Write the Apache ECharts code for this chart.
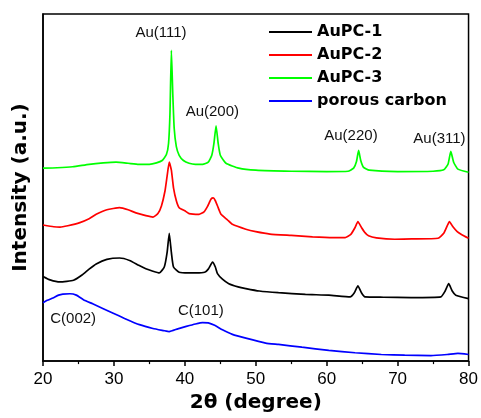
<!DOCTYPE html>
<html>
<head>
<meta charset="utf-8">
<script src="https://cdn.jsdelivr.net/npm/echarts@6/dist/echarts.min.js"></script>
<style>
  html, body { margin: 0; padding: 0; background: #fff; }
  #chart { width: 481px; height: 418px; }
</style>
</head>
<body>
<div id="chart"></div>
<script>
// XRD patterns, 2θ in degrees vs. intensity (arbitrary units, stacked with offsets)
const seriesNames = ['AuPC-1', 'AuPC-2', 'AuPC-3', 'porous carbon'];
const seriesColors = ['#000000', '#ff0000', '#00ff00', '#0000ff'];

const aupc1 = [
  [20, 24.4], [21, 23.4], [22.4, 22.8], [24.3, 23.3], [25.5, 24.8], [26.5, 26.5],
  [27.5, 28.0], [29.0, 29.3], [30.8, 29.7], [32.2, 29.0], [33.5, 27.6], [34.5, 26.6],
  [35.5, 25.9], [36.4, 25.4], [37.1, 27.1], [37.5, 31.3], [37.8, 36.8], [38.1, 31.3],
  [38.4, 27.1], [39.2, 25.6], [40.5, 25.4], [41.6, 25.4], [42.8, 25.6], [43.3, 26.5],
  [43.9, 28.5], [44.3, 27.1], [44.6, 25.2], [45.3, 23.6], [46.2, 22.3], [47.5, 21.4],
  [48.6, 20.9], [50.5, 20.2], [53.2, 19.7], [57, 19.2], [60.3, 19.0], [63.3, 18.5],
  [63.9, 19.7], [64.4, 21.7], [64.9, 19.7], [65.4, 18.5], [68, 18.4], [71.9, 18.3],
  [76.1, 18.5], [76.7, 20.2], [77.2, 22.3], [77.7, 20.2], [78.2, 19.0], [80, 18.0]
];

const aupc2 = [
  [20, 39.2], [21.5, 38.7], [22.4, 38.6], [23.5, 39.0], [25.2, 39.9], [26.5, 41.0],
  [27.5, 42.3], [29.0, 43.6], [30.8, 44.2], [32.0, 43.6], [33.1, 42.7], [34.5, 41.9],
  [35.5, 41.5], [36.2, 42.5], [36.7, 44.7], [37.2, 49.0], [37.5, 53.3], [37.8, 57.3],
  [38.1, 55.0], [38.4, 49.9], [38.8, 46.2], [39.2, 44.2], [40.0, 43.3], [40.6, 42.5],
  [42.0, 42.3], [42.7, 43.0], [43.2, 44.6], [43.7, 46.7], [44.0, 47.0], [44.3, 46.2],
  [44.7, 44.2], [45.1, 42.3], [46.0, 40.7], [46.7, 39.4], [48.6, 38.0], [50, 37.3],
  [52, 36.6], [55, 36.2], [58, 35.8], [61, 35.6], [62.6, 35.6], [63.4, 36.5],
  [64.0, 38.5], [64.4, 40.2], [64.9, 38.5], [65.4, 37.0], [65.9, 36.1], [67, 35.5],
  [69.6, 35.1], [72, 35.2], [75.7, 35.4], [76.5, 36.8], [77.0, 39.0], [77.3, 40.2],
  [77.8, 38.7], [78.4, 37.3], [79.0, 36.5], [80, 35.4]
];

const aupc3 = [
  [20, 55.6], [22, 55.7], [24.2, 56.0], [26.5, 56.7], [28.5, 57.1], [30.3, 57.3],
  [32.0, 57.0], [33.5, 56.7], [35.0, 56.7], [36.0, 57.1], [36.8, 57.8], [37.4, 59.5],
  [37.7, 62.7], [37.9, 71.2], [38.1, 89.5], [38.3, 76.9], [38.5, 67.0], [38.8, 61.8],
  [39.2, 59.3], [39.8, 57.8], [40.6, 57.0], [41.5, 56.7], [42.5, 56.7], [43.3, 57.3],
  [43.8, 59.3], [44.1, 62.7], [44.4, 67.8], [44.7, 62.7], [45.0, 59.3], [45.8, 57.0],
  [47.6, 55.6], [50, 55.0], [55, 54.7], [60, 54.6], [63.0, 54.7], [63.8, 55.6],
  [64.2, 57.5], [64.5, 60.7], [64.8, 57.8], [65.2, 55.8], [66.0, 55.0], [70, 54.6],
  [75, 54.7], [76.5, 55.1], [77.1, 56.7], [77.5, 60.4], [77.9, 57.3], [78.5, 55.3],
  [80, 54.4]
];

const porousCarbon = [
  [20, 16.8], [20.6, 17.5], [21.4, 18.2], [22.2, 19.0], [22.8, 19.3], [23.8, 19.4],
  [24.7, 19.0], [25.7, 17.7], [27.0, 16.5], [28.5, 15.1], [29.9, 13.8], [31.5, 12.3],
  [33.6, 10.5], [35.5, 9.4], [37.0, 8.8], [37.8, 8.5], [39.0, 9.3], [40.2, 10.0],
  [41.5, 10.7], [42.5, 11.1], [43.3, 11.0], [44.2, 10.3], [45.3, 9.0], [46.7, 7.7],
  [48.6, 6.6], [51.4, 5.2], [53.2, 4.8], [56.5, 4.0], [60.3, 3.1], [64, 2.4],
  [67.7, 1.9], [71, 1.7], [74.7, 1.6], [77, 1.9], [78.5, 2.2], [80, 1.9]
];

// Reflection labels: [text, 2θ, intensity]
const peakLabels = [
  ['Au(111)', 36.64, 94.6],
  ['Au(200)', 43.88, 71.7],
  ['Au(220)', 63.42, 64.8],
  ['Au(311)', 75.9, 64.1],
  ['C(002)', 24.25, 12.2],
  ['C(101)', 42.25, 14.4]
];

const xTicks = [20, 30, 40, 50, 60, 70, 80];

const chart = echarts.init(document.getElementById('chart'), null, { renderer: 'canvas' });

const curves = [aupc1, aupc2, aupc3, porousCarbon];
const lineSeries = curves.map((d, i) => ({
  name: seriesNames[i],
  type: 'line',
  data: d,
  showSymbol: false,
  symbol: 'none',
  smooth: 0.15,
  lineStyle: { color: seriesColors[i], width: 1.7 },
  itemStyle: { color: seriesColors[i] },
  z: 3
}));

const labelSeries = {
  name: 'labels',
  type: 'scatter',
  data: peakLabels.map(p => ({ name: p[0], value: [p[1], p[2]] })),
  symbolSize: 0.1,
  itemStyle: { color: 'rgba(0,0,0,0)' },
  silent: true,
  label: {
    show: true,
    position: 'inside',
    formatter: p => p.name,
    color: '#111',
    opacity: 1,
    textBorderWidth: 0,
    fontFamily: 'Liberation Sans, Arial, sans-serif',
    fontSize: 15
  },
  z: 5
};

chart.setOption({
  animation: false,
  backgroundColor: '#ffffff',
  grid: {
    left: 43, right: 10, top: 14, bottom: 53,
    show: true, borderColor: '#000', borderWidth: 1.5, backgroundColor: 'transparent'
  },
  legend: {
    data: seriesNames,
    orient: 'vertical',
    left: 269,
    top: 22,
    padding: 0,
    itemGap: 3,
    itemWidth: 43,
    itemHeight: 2,
    icon: 'rect',
    textStyle: {
      fontFamily: 'DejaVu Sans, sans-serif',
      fontWeight: 'bold',
      fontSize: 16,
      lineHeight: 20,
      color: '#000'
    }
  },
  xAxis: {
    type: 'value',
    min: 20,
    max: 80,
    interval: 10,
    name: '2θ (degree)',
    nameLocation: 'middle',
    nameGap: 29,
    nameTextStyle: {
      fontFamily: 'DejaVu Sans, sans-serif',
      fontWeight: 'bold',
      fontSize: 20,
      color: '#000'
    },
    axisLine: { show: true, onZero: false, lineStyle: { color: '#000', width: 1.5 } },
    axisTick: { show: true, inside: false, length: 5, lineStyle: { color: '#000', width: 1.5 } },
    minorTick: { show: true, splitNumber: 2, length: 3, lineStyle: { color: '#000', width: 1.2 } },
    splitLine: { show: false },
    axisLabel: {
      margin: 10,
      color: '#000',
      fontFamily: 'Liberation Sans, Arial, sans-serif',
      fontSize: 17,
      formatter: v => (xTicks.includes(v) ? String(v) : '')
    }
  },
  yAxis: {
    type: 'value',
    min: 0,
    max: 100,
    name: 'Intensity (a.u.)',
    nameLocation: 'middle',
    nameGap: 12,
    nameTextStyle: {
      fontFamily: 'DejaVu Sans, sans-serif',
      fontWeight: 'bold',
      fontSize: 20,
      color: '#000'
    },
    axisLine: { show: true, onZero: false, lineStyle: { color: '#000', width: 1.5 } },
    axisTick: { show: false },
    axisLabel: { show: false },
    splitLine: { show: false }
  },
  series: [...lineSeries, labelSeries]
});
</script>
</body>
</html>
